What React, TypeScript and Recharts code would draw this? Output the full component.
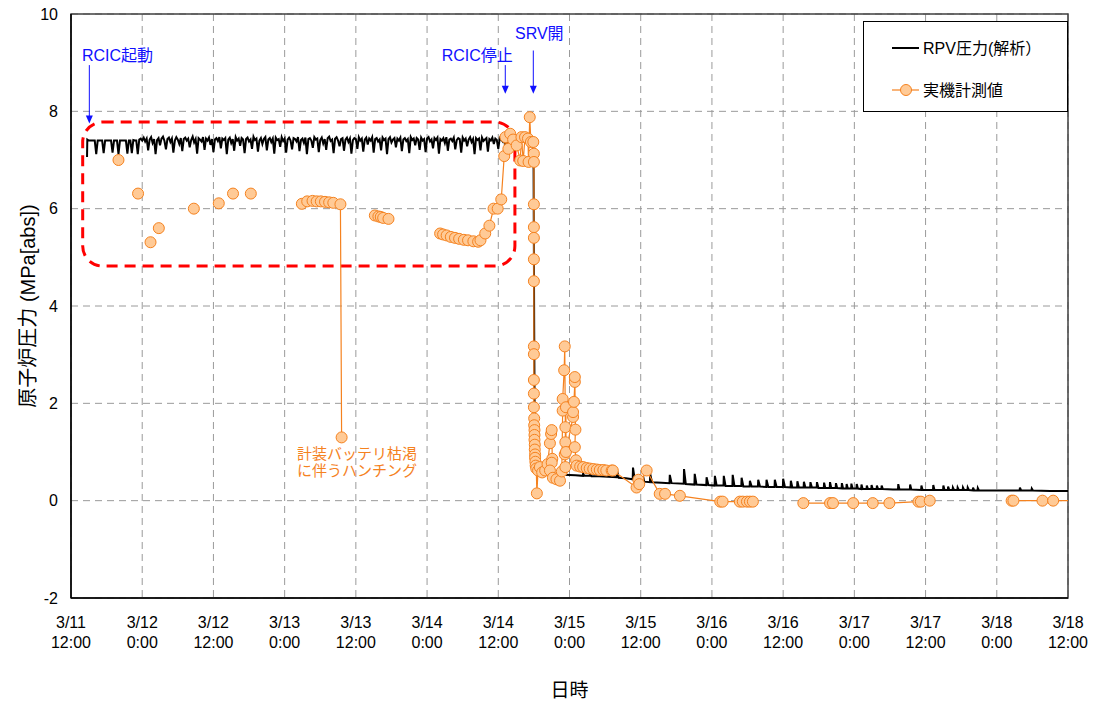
import {
  LineChart,
  Line,
  XAxis,
  YAxis,
  CartesianGrid,
  ReferenceArea,
  ReferenceDot,
  ReferenceLine,
  Legend,
} from "recharts";

const FONT = '"Liberation Sans", Arial, "Noto Sans CJK JP", sans-serif';
const BLUE = "#1010ff";
const ORANGE = "#f5821f";
const ORANGE_FILL = "#ffca96";

// x axis = hours since 3/11 12:00
const hourTicks = [0, 12, 24, 36, 48, 60, 72, 84, 96, 108, 120, 132, 144, 156, 168];
const tickDates = ["3/11", "3/12", "3/12", "3/13", "3/13", "3/14", "3/14", "3/15", "3/15", "3/16", "3/16", "3/17", "3/17", "3/18", "3/18"];
const tickTimes = ["12:00", "0:00", "12:00", "0:00", "12:00", "0:00", "12:00", "0:00", "12:00", "0:00", "12:00", "0:00", "12:00", "0:00", "12:00"];
const pressureTicks = [-2, 0, 2, 4, 6, 8, 10];

// RPV pressure (analysis): start, RCIC period sampled every 0.25 h, then depressurisation
const analysisStart: [number, number][] = [
  [2.7, 7.06],
  [2.75, 7.42],
];
const rcicStart = 3;
const rcicStep = 0.25;
const rcicValues = [
  7.40, 7.40, 7.40, 7.40, 7.40, 7.12, 7.40, 7.40, 7.40, 7.40,
  7.14, 7.40, 7.40, 7.40, 7.40, 7.40, 7.15, 7.40, 7.40, 7.40,
  7.12, 7.40, 7.40, 7.40, 7.40, 7.40, 7.13, 7.40, 7.40, 7.14,
  7.41, 7.40, 7.40, 7.12, 7.42, 7.44, 7.40,
  7.46, 7.38, 7.44, 7.20, 7.42, 7.47, 7.35, 7.43, 7.12, 7.41,
  7.45, 7.30, 7.44, 7.48, 7.39, 7.22, 7.43, 7.46, 7.37, 7.44,
  7.15, 7.40, 7.47, 7.42, 7.33, 7.45, 7.18, 7.43, 7.46, 7.40,
  7.44, 7.26, 7.41, 7.48, 7.36, 7.43, 7.13, 7.45, 7.42, 7.38,
  7.47, 7.21, 7.44, 7.40, 7.46, 7.31, 7.43, 7.16, 7.42, 7.45,
  7.39, 7.47, 7.24, 7.44, 7.41, 7.45, 7.12, 7.42, 7.46, 7.35,
  7.43, 7.19, 7.47, 7.40, 7.44, 7.29, 7.45, 7.42, 7.14, 7.43,
  7.46, 7.38, 7.42, 7.23, 7.48, 7.41, 7.44, 7.17, 7.40, 7.45,
  7.33, 7.43, 7.47, 7.20, 7.42, 7.45, 7.37, 7.44, 7.13, 7.46,
  7.41, 7.43, 7.27, 7.47, 7.39, 7.44, 7.15, 7.42, 7.46, 7.40,
  7.22, 7.45, 7.43, 7.38, 7.47, 7.18, 7.41, 7.44, 7.35, 7.46,
  7.12, 7.43, 7.45, 7.40, 7.25, 7.47, 7.42, 7.44, 7.16, 7.41,
  7.46, 7.34, 7.43, 7.21, 7.45, 7.48, 7.39, 7.42, 7.14, 7.44,
  7.47, 7.40, 7.28, 7.43, 7.45, 7.19, 7.42, 7.46, 7.37, 7.44,
  7.13, 7.41, 7.45, 7.43, 7.23, 7.47, 7.40, 7.44, 7.17, 7.42,
  7.46, 7.32, 7.44, 7.40, 7.47, 7.15, 7.43, 7.45, 7.38, 7.42,
  7.20, 7.46, 7.41, 7.44, 7.12, 7.43, 7.47, 7.36, 7.42, 7.45,
  7.26, 7.44, 7.40, 7.46, 7.18, 7.42, 7.45, 7.39, 7.43, 7.14,
  7.47, 7.41, 7.44, 7.30, 7.45, 7.42, 7.21, 7.46, 7.40, 7.43,
  7.16, 7.44, 7.47, 7.38, 7.42, 7.24, 7.45, 7.41, 7.46, 7.13,
  7.43, 7.40, 7.45, 7.35, 7.47, 7.19, 7.42, 7.44, 7.39, 7.46,
  7.22, 7.41, 7.45, 7.43, 7.15, 7.46, 7.40, 7.44, 7.28, 7.42,
  7.47, 7.37, 7.43, 7.12, 7.45, 7.41, 7.44, 7.20, 7.46, 7.39,
  7.42, 7.45, 7.17, 7.43, 7.40, 7.46, 7.33, 7.44, 7.41, 7.23,
  7.45, 7.42, 7.38, 7.46, 7.14, 7.43, 7.41, 7.44, 7.36, 7.42,
  7.19, 7.45, 7.40, 7.43, 7.38, 7.44, 7.40, 7.42, 7.39, 7.41,
];
const analysisTail: [number, number][] = [
  [77.5, 7.44], [77.7, 7.4], [77.85, 7.3], [77.95, 6.8], [78.05, 3.5], [78.15, 1.2], [78.3, 0.62],
  [78.6, 0.56], [79.5, 0.55], [81, 0.54], [83, 0.53], [85, 0.52],
  [86.25, 0.51], [86.3, 0.56], [86.5, 0.51], [87.4, 0.51], [87.45, 0.55], [87.7, 0.5],
  [89, 0.5], [90.5, 0.49],
  [91.95, 0.48], [92.0, 0.62], [92.3, 0.47], [93.5, 0.46],
  [94.65, 0.44], [94.7, 0.68], [95.0, 0.42], [95.6, 0.4],
  [96.35, 0.4], [96.4, 0.5], [96.6, 0.39],
  [97.55, 0.38], [97.6, 0.55], [97.9, 0.38], [99.5, 0.37],
  [100.85, 0.36], [100.9, 0.53], [101.2, 0.36],
  [103.25, 0.35], [103.3, 0.65], [103.6, 0.34],
  [105.05, 0.33], [105.1, 0.55], [105.4, 0.33],
  [107.05, 0.32], [107.1, 0.48], [107.4, 0.32],
  [108.45, 0.31], [108.5, 0.51], [108.8, 0.31],
  [109.95, 0.31], [110.0, 0.51], [110.3, 0.3],
  [111.45, 0.3], [111.5, 0.53], [111.8, 0.3],
  [112.95, 0.3], [113.0, 0.47], [113.3, 0.29],
  [114.35, 0.29], [114.4, 0.41], [114.7, 0.29],
  [115.75, 0.29], [115.8, 0.43], [116.1, 0.29],
  [117.15, 0.28], [117.2, 0.43], [117.5, 0.28],
  [118.55, 0.28], [118.6, 0.43], [118.9, 0.28],
  [119.95, 0.28], [120.0, 0.45], [120.3, 0.28],
  [121.25, 0.27], [121.3, 0.41], [121.55, 0.27],
  [122.35, 0.27], [122.4, 0.4], [122.65, 0.27],
  [123.45, 0.27], [123.5, 0.39], [123.75, 0.27],
  [124.55, 0.27], [124.6, 0.38], [124.85, 0.27],
  [125.65, 0.27], [125.7, 0.38], [125.95, 0.26],
  [126.85, 0.26], [126.9, 0.37], [127.1, 0.26],
  [127.85, 0.26], [127.9, 0.38], [128.1, 0.26],
  [128.85, 0.26], [128.9, 0.36], [129.1, 0.26],
  [129.85, 0.25], [129.9, 0.36], [130.1, 0.25],
  [130.65, 0.25], [130.7, 0.34], [130.9, 0.25],
  [131.45, 0.25], [131.5, 0.35], [131.7, 0.25],
  [132.35, 0.25], [132.4, 0.34], [132.6, 0.25],
  [133.15, 0.24], [133.2, 0.33], [133.4, 0.24],
  [134.05, 0.24], [134.1, 0.31], [134.3, 0.24],
  [134.85, 0.24], [134.9, 0.32], [135.1, 0.24],
  [135.75, 0.24], [135.8, 0.31], [136.0, 0.24],
  [136.55, 0.24], [136.6, 0.31], [136.8, 0.24],
  [138.5, 0.23],
  [139.35, 0.23], [139.4, 0.34], [139.6, 0.23],
  [141.35, 0.23], [141.4, 0.33], [141.6, 0.23],
  [143.25, 0.22], [143.3, 0.31], [143.5, 0.22],
  [145.25, 0.22], [145.3, 0.32], [145.5, 0.22],
  [146.95, 0.22], [147.0, 0.31], [147.2, 0.22],
  [147.75, 0.22], [147.8, 0.29], [148.0, 0.22],
  [148.55, 0.22], [148.6, 0.27], [148.8, 0.22],
  [149.35, 0.22], [149.4, 0.27], [149.6, 0.22],
  [150.25, 0.22], [150.3, 0.27], [150.5, 0.22],
  [151.05, 0.22], [151.1, 0.27], [151.3, 0.22],
  [151.95, 0.21], [152.0, 0.27], [152.2, 0.21],
  [152.75, 0.21], [152.8, 0.26], [153.0, 0.21],
  [156, 0.21],
  [159.85, 0.21], [159.9, 0.27], [160.1, 0.21],
  [161.85, 0.21], [161.9, 0.25], [162.1, 0.21],
  [165, 0.2], [168, 0.2],
];

// plant measurements; null = no line between readings
const measured: [number, number | null][] = [
  [8.0, 7.0], [8.1, null],
  [11.3, 6.31], [11.4, null],
  [13.4, 5.31], [13.5, null],
  [14.8, 5.6], [14.9, null],
  [20.7, 6.0], [20.8, null],
  [24.9, 6.11], [25.0, null],
  [27.3, 6.31], [27.4, null],
  [30.3, 6.31], [30.4, null],
  [38.9, 6.1], [39.8, 6.15], [40.7, 6.16], [41.4, 6.15], [42.1, 6.15], [42.8, 6.14], [43.5, 6.13], [44.2, 6.12], [45.4, 6.09], [45.6, 1.3], [45.7, null],
  [51.2, 5.86], [51.8, 5.84], [52.2, 5.83], [52.6, 5.81], [53.5, 5.79], [53.6, null],
  [62.2, 5.49], [62.7, 5.47], [63.3, 5.45], [64.0, 5.42], [64.7, 5.4], [65.4, 5.38], [66.2, 5.36], [66.9, 5.35], [67.8, 5.33], [68.6, 5.32],
  [69.0, 5.35], [69.8, 5.49], [70.5, 5.65], [71.2, 6.0], [71.9, 6.0], [72.5, 6.19], [73.0, 7.08], [73.2, 7.47], [73.7, 7.23], [74.0, 7.54],
  [74.5, 7.42], [75.1, 7.3], [75.7, 6.99], [75.9, 7.47], [76.2, 6.98], [76.5, 7.47], [77.0, 7.44], [77.1, 6.96], [77.3, 7.88], [77.5, 7.37],
  [77.9, 7.37], [78.0, 7.13], [78.0, 6.96], [78.0, 6.09], [78.0, 5.62], [78.0, 5.4], [78.0, 4.96], [78.0, 4.51], [78.0, 3.17], [78.0, 3.01],
  [78.0, 2.48], [78.0, 2.2], [78.0, 1.92], [78.05, 1.69], [78.05, 1.55], [78.1, 1.45], [78.1, 1.35], [78.1, 1.25], [78.15, 1.15], [78.15, 1.05],
  [78.2, 0.95], [78.2, 0.88], [78.25, 0.8], [78.3, 0.72], [78.4, 0.66], [78.5, 0.15], [78.7, 0.62], [79.0, 0.69], [79.4, 0.58], [79.9, 0.62],
  [80.3, 0.75], [80.7, 1.18], [80.9, 1.37], [81.0, 1.45], [81.1, 0.86], [81.0, 0.78], [80.7, 0.62], [81.2, 0.47], [81.8, 0.44], [82.4, 0.41],
  [82.7, 0.6], [82.85, 1.85], [82.85, 2.09], [83.1, 2.68], [83.2, 3.17], [83.3, 1.51], [83.3, 1.2], [83.2, 0.95], [83.3, 0.69], [83.4, 1.92],
  [83.4, 1.0], [84.6, 1.72], [84.6, 1.82], [84.75, 2.03], [84.9, 2.44], [84.9, 2.54], [85.0, 1.46], [84.9, 1.1], [85.1, 0.83], [85.2, 0.72],
  [85.8, 0.7], [86.3, 0.69], [86.9, 0.67], [87.4, 0.66], [88.0, 0.65], [88.6, 0.64], [89.1, 0.63], [89.7, 0.63], [90.2, 0.62], [91.1, 0.62],
  [91.3, 0.62], [95.3, 0.27], [95.6, 0.43], [95.75, 0.34], [97.0, 0.62], [99.2, 0.14], [100.1, 0.14], [102.6, 0.1], [109.4, -0.02], [109.8, -0.02],
  [112.7, -0.02], [113.2, -0.02], [113.9, -0.02], [114.4, -0.02], [114.9, -0.02], [115.0, null],
  [123.4, -0.05], [127.9, -0.05], [128.4, -0.05], [131.8, -0.05], [135.1, -0.05], [137.9, -0.05], [142.8, -0.02], [143.2, -0.02], [144.7, 0.0], [144.8, null],
  [158.5, 0.0], [158.8, 0.0], [163.7, 0.0], [165.5, 0.0], [171, 0.0],
];

const analysisData = [
  ...analysisStart.map(([h, p]) => ({ h, p })),
  ...rcicValues.map((p, i) => ({ h: rcicStart + i * rcicStep, p })),
  ...analysisTail.map(([h, p]) => ({ h, p })),
];
const measuredData = measured.map(([h, p]) => ({ h, p }));

function DateTick({ x, y, payload }: any) {
  const i = hourTicks.indexOf(payload.value);
  return (
    <text x={x} y={y} textAnchor="middle" fill="#000" fontSize={16} fontFamily={FONT}>
      <tspan x={x} dy={22}>{tickDates[i]}</tspan>
      <tspan x={x} dy={20}>{tickTimes[i]}</tspan>
    </text>
  );
}

const noteText = (label: string, color: string, size: number) => (props: any) =>
  (
    <text x={props.cx} y={props.cy} fill={color} fontSize={size} fontFamily={FONT} dominantBaseline="central">
      {label}
    </text>
  );

function Arrow(props: any) {
  const { x1, y1, x2, y2 } = props;
  return (
    <g>
      <line x1={x1} y1={y1} x2={x2} y2={y2 - 6} stroke={BLUE} strokeWidth={1} />
      <polygon points={`${x2 - 3.5},${y2 - 8} ${x2 + 3.5},${y2 - 8} ${x2},${y2}`} fill={BLUE} />
    </g>
  );
}

function LegendBox() {
  return (
    <div
      style={{
        position: "relative",
        width: 205,
        height: 91,
        boxSizing: "border-box",
        border: "1px solid #000",
        background: "#fff",
        fontFamily: FONT,
        fontSize: 16,
        color: "#000",
      }}
    >
      <svg width={205} height={91} style={{ position: "absolute", left: 0, top: 0 }}>
        <line x1={28} y1={26} x2={55} y2={26} stroke="#000" strokeWidth={2} />
        <line x1={28} y1={68} x2={55} y2={68} stroke={ORANGE} strokeWidth={1.2} />
        <circle cx={42} cy={68} r={5.5} fill={ORANGE_FILL} stroke={ORANGE} />
        <text x={59} y={26} dominantBaseline="central" fontSize={16} fontFamily={FONT}>RPV圧力(解析）</text>
        <text x={59} y={68} dominantBaseline="central" fontSize={16} fontFamily={FONT}>実機計測値</text>
      </svg>
    </div>
  );
}

export default function App() {
  return (
    <div style={{ position: "absolute", left: 0, top: 0, width: 1096, height: 706, background: "#fff" }}>
      <LineChart
        width={1096}
        height={706}
        margin={{ top: 14, right: 28, left: 0, bottom: 48 }}
        style={{ fontFamily: FONT }}
      >
        <CartesianGrid stroke="#9a9a9a" strokeDasharray="7 5" />
        <XAxis
          type="number"
          dataKey="h"
          domain={[0, 168]}
          ticks={hourTicks}
          allowDataOverflow
          height={60}
          tickLine={false}
          axisLine={{ stroke: "#000", strokeWidth: 1.5 }}
          tick={<DateTick />}
          interval={0}
          label={{
            content: (props: any) => {
              const vb = props.viewBox;
              return (
                <text x={vb.x + vb.width / 2} y={vb.y + 92} textAnchor="middle" dominantBaseline="central" fontSize={19} fontFamily={FONT} fill="#000">
                  日時
                </text>
              );
            },
          }}
        />
        <YAxis
          type="number"
          domain={[-2, 10]}
          ticks={pressureTicks}
          allowDataOverflow
          width={71}
          tickLine={false}
          tickMargin={7}
          axisLine={{ stroke: "#000", strokeWidth: 1.5 }}
          tick={{ fill: "#000", fontSize: 16, fontFamily: FONT }}
          label={{
            content: (props: any) => {
              const vb = props.viewBox;
              const cx = vb.x + 28;
              const cy = vb.y + vb.height / 2;
              return (
                <text x={cx} y={cy} transform={`rotate(-90, ${cx}, ${cy})`} textAnchor="middle" dominantBaseline="central" fontSize={20} fontFamily={FONT} fill="#000">
                  原子炉圧力 (MPa[abs])
                </text>
              );
            },
          }}
        />
        <ReferenceArea x1={0} x2={168} y1={-2} y2={10} fill="none" stroke="#404040" strokeWidth={1.5} />
        <Line
          data={analysisData}
          dataKey="p"
          type="linear"
          stroke="#000"
          strokeWidth={2}
          dot={false}
          activeDot={false}
          isAnimationActive={false}
        />
        <Line
          data={measuredData}
          dataKey="p"
          type="linear"
          stroke={ORANGE}
          strokeWidth={1.2}
          dot={{ r: 5.5, fill: ORANGE_FILL, stroke: ORANGE, strokeWidth: 1 }}
          activeDot={false}
          connectNulls={false}
          isAnimationActive={false}
        />
        <ReferenceArea
          x1={1.97}
          x2={74.8}
          y1={4.82}
          y2={7.78}
          shape={(p: any) => (
            <rect x={p.x} y={p.y} width={p.width} height={p.height} rx={20} ry={20} fill="none" stroke="#ff0000" strokeWidth={3} strokeDasharray="11 7" />
          )}
        />
        <ReferenceLine segment={[{ x: 3.09, y: 8.95 }, { x: 3.09, y: 7.75 }]} shape={<Arrow />} />
        <ReferenceLine segment={[{ x: 73.18, y: 8.95 }, { x: 73.18, y: 8.36 }]} shape={<Arrow />} />
        <ReferenceLine segment={[{ x: 77.9, y: 9.25 }, { x: 77.9, y: 8.36 }]} shape={<Arrow />} />
        <ReferenceDot x={1.85} y={9.15} r={0} shape={noteText("RCIC起動", BLUE, 16)} />
        <ReferenceDot x={62.46} y={9.15} r={0} shape={noteText("RCIC停止", BLUE, 16)} />
        <ReferenceDot x={74.81} y={9.6} r={0} shape={noteText("SRV開", BLUE, 16)} />
        <ReferenceDot x={38.08} y={0.97} r={0} shape={noteText("計装バッテリ枯渇", ORANGE, 15)} />
        <ReferenceDot x={38.08} y={0.62} r={0} shape={noteText("に伴うハンチング", ORANGE, 15)} />
        <Legend
          layout="vertical"
          align="center"
          verticalAlign="middle"
          content={() => <LegendBox />}
          wrapperStyle={{ position: "absolute", left: 863, top: 21, width: 205, height: 91 }}
        />
      </LineChart>
    </div>
  );
}
